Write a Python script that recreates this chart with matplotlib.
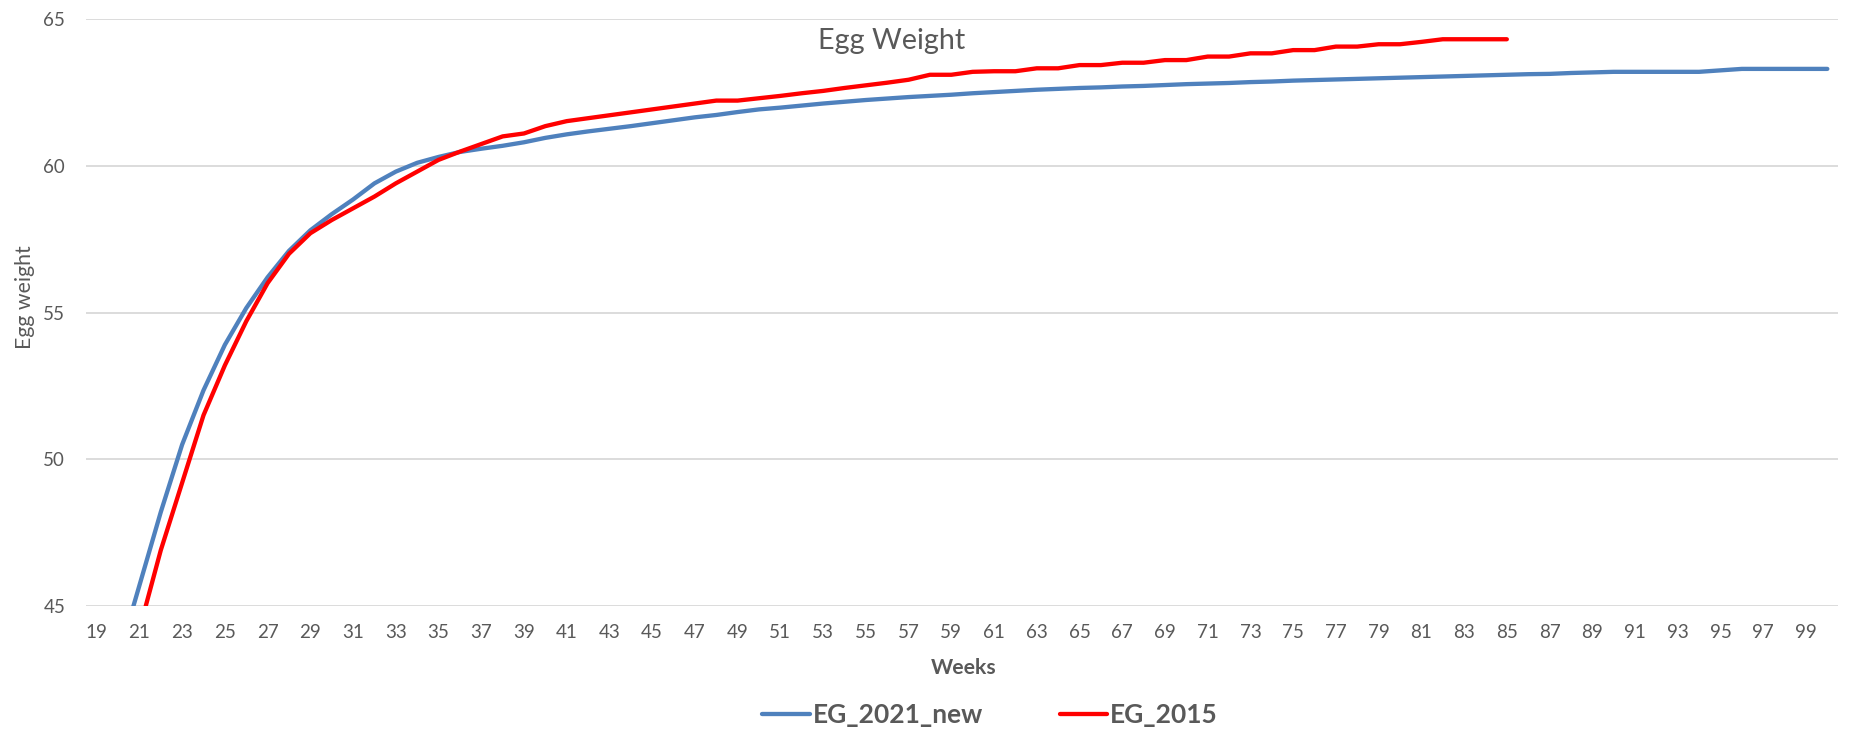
import numpy as np
import matplotlib.pyplot as plt

plt.rcParams['font.family'] = ['Lato', 'DejaVu Sans']

# weeks on the category axis
weeks = list(range(19, 101))

# EG_2021_new, weeks 19..100
eg_2021_new = [40.6, 43.2, 45.7, 48.2, 50.5, 52.35, 53.9, 55.15, 56.2, 57.1,
               57.8, 58.35, 58.85, 59.4, 59.8, 60.1, 60.3, 60.47, 60.58, 60.68,
               60.8, 60.95, 61.07, 61.17, 61.26, 61.35, 61.45, 61.55, 61.65, 61.73,
               61.83, 61.92, 61.98, 62.05, 62.12, 62.18, 62.24, 62.29, 62.34, 62.38,
               62.42, 62.47, 62.51, 62.55, 62.59, 62.62, 62.65, 62.67, 62.7, 62.72,
               62.75, 62.78, 62.8, 62.82, 62.85, 62.87, 62.9, 62.92, 62.94, 62.96,
               62.98, 63.0, 63.02, 63.04, 63.06, 63.08, 63.1, 63.12, 63.13, 63.16,
               63.18, 63.2, 63.2, 63.2, 63.2, 63.2, 63.25, 63.3, 63.3, 63.3,
               63.3, 63.3]

# EG_2015, weeks 20..85
weeks_2015 = list(range(20, 86))
eg_2015 = [41.4, 44.2, 46.9, 49.2, 51.5, 53.2, 54.7, 56.0, 57.0, 57.7,
           58.15, 58.55, 58.95, 59.4, 59.8, 60.2, 60.48, 60.74, 61.0, 61.1,
           61.35, 61.52, 61.62, 61.72, 61.82, 61.92, 62.02, 62.12, 62.22, 62.22,
           62.3, 62.38, 62.47, 62.55, 62.65, 62.74, 62.83, 62.93, 63.1, 63.1,
           63.2, 63.22, 63.22, 63.32, 63.32, 63.43, 63.43, 63.51, 63.51, 63.6,
           63.6, 63.72, 63.72, 63.83, 63.83, 63.94, 63.94, 64.06, 64.06, 64.14,
           64.14, 64.22, 64.31, 64.31, 64.31, 64.31]

fig = plt.figure(figsize=(18.56, 7.3), dpi=100)
ax = fig.add_axes([86 / 1856, 1 - 606 / 730, (1838 - 86) / 1856, (606 - 19) / 730])

ax.plot(weeks, eg_2021_new, color='#4F81BD', lw=3.1, solid_joinstyle='round',
        solid_capstyle='round', label='EG_2021_new')
ax.plot(weeks_2015, eg_2015, color='#FF0000', lw=3.1, solid_joinstyle='round',
        solid_capstyle='round', label='EG_2015')

ax.set_xlim(18.5, 100.5)
ax.set_ylim(45, 65)
ax.set_xticks(weeks[::2])
ax.set_yticks([45, 50, 55, 60, 65])
ax.grid(axis='y', color='#D9D9D9', lw=1.3)
ax.set_axisbelow(True)
for s in ax.spines.values():
    s.set_visible(False)
ax.tick_params(length=0, labelsize=13.5, colors='#595959')
ax.tick_params(axis='x', pad=13)
ax.tick_params(axis='y', pad=15)

fig.text(892 / 1856, 1 - 41 / 730, 'Egg Weight', ha='center', va='center',
         fontsize=20.7, color='#595959')
fig.text(964 / 1856, 1 - 668 / 730, 'Weeks', ha='center', va='center',
         fontsize=15.2, fontweight='bold', color='#595959')
fig.text(25 / 1856, 1 - 297 / 730, 'Egg weight', ha='center', va='center',
         rotation=90, fontsize=15.3, color='#595959')

leg = fig.legend(loc='center', bbox_to_anchor=(990 / 1856, 1 - 715 / 730), ncol=2,
                 frameon=False, fontsize=19, handlelength=1.8, handletextpad=0.12,
                 columnspacing=2.9, borderpad=0, borderaxespad=0)
for t in leg.get_texts():
    t.set_fontweight('bold')
    t.set_color('#595959')

fig.savefig('out.png', dpi=100)
